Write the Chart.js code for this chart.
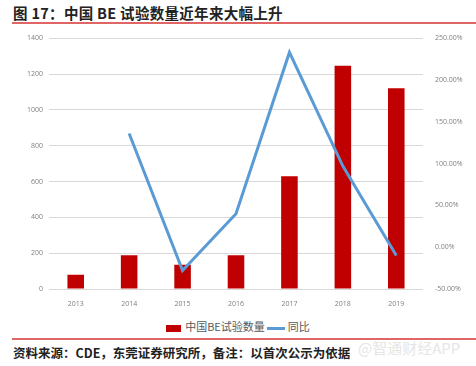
<!DOCTYPE html>
<html>
<head>
<meta charset="utf-8">
<script src="https://cdn.jsdelivr.net/npm/chart.js@4.4.0/dist/chart.umd.min.js"></script>
<style>
  body { margin: 0; width: 476px; height: 366px; background: #fff; position: relative; overflow: hidden;
         font-family: "Noto Sans CJK SC", sans-serif; }
  #title { position: absolute; left: 13px; top: 2px; font-size: 14.5px; font-weight: bold; color: #222; letter-spacing: 0.3px; }
  .rule { position: absolute; left: 12px; right: 0; height: 1.5px; background: #e06666; }
  #wrap { position: absolute; left: 0; top: 28px; width: 476px; height: 281px; }
  #legend { position: absolute; top: 318px; left: 0; width: 476px; text-align: center; font-size: 11px; color: #595959; }
  #legend span.box { display: inline-block; width: 15px; height: 7px; background: #c00000; vertical-align: middle; margin-right: 4px; }
  #legend span.ln { display: inline-block; width: 18px; height: 3px; background: #5b9bd5; vertical-align: middle; margin: 0 3px 0 2px; }
  #note { position: absolute; left: 13px; top: 343px; font-size: 12.5px; font-weight: bold; color: #222; }
  #wm { position: absolute; left: 358px; top: 337px; font-size: 15px; color: #e6e6e6; }
</style>
</head>
<body>
<div id="title">图&nbsp;17：中国 BE 试验数量近年来大幅上升</div>
<div class="rule" style="top:22px"></div>
<div id="wrap"><canvas id="myChart"></canvas></div>
<div id="legend"><span class="box"></span>中国BE试验数量<span class="ln"></span>同比</div>
<div class="rule" style="top:338px"></div>
<div id="note">资料来源：CDE，东莞证券研究所，备注：以首次公示为依据</div>
<div id="wm">@智通财经APP</div>
<script>
var years = ['2013', '2014', '2015', '2016', '2017', '2018', '2019'];
var beCount = [79, 189, 135, 189, 629, 1246, 1120];
var yoy = [null, 136, -28, 40, 233, 97, -10];

var tickFont = { family: 'Open Sans', size: 7 };

new Chart('myChart', {
    type: 'bar',
    data: {
        labels: years,
        datasets: [{
            type: 'line',
            label: '同比',
            data: yoy,
            yAxisID: 'y1',
            borderColor: '#5b9bd5',
            borderWidth: 3,
            pointRadius: 0,
            tension: 0,
            order: 0
        }, {
            label: '中国BE试验数量',
            data: beCount,
            yAxisID: 'y',
            backgroundColor: '#c00000',
            categoryPercentage: 1,
            barPercentage: 0.31,
            order: 1
        }]
    },
    options: {
        responsive: true,
        maintainAspectRatio: false,
        animation: false,
        layout: { padding: { top: 8, left: 0, right: 0, bottom: 0 } },
        plugins: { legend: { display: false }, tooltip: { enabled: false } },
        scales: {
            x: {
                grid: { display: false },
                border: { display: false },
                ticks: { color: '#7f7f7f', font: tickFont, padding: 3 },
                afterFit: function (s) { s.height = 20; }
            },
            y: {
                position: 'left',
                min: 0, max: 1400,
                ticks: {
                    stepSize: 200, color: '#7f7f7f', font: tickFont, padding: 6,
                    callback: function (v) { return String(v); }
                },
                grid: { color: '#d9d9d9', drawTicks: false },
                border: { display: false },
                afterFit: function (s) { s.width = 49; }
            },
            y1: {
                position: 'right',
                min: -50, max: 250,
                ticks: {
                    stepSize: 50, color: '#7f7f7f', font: tickFont, padding: 4,
                    callback: function (v) { return v.toFixed(2) + '%'; }
                },
                grid: { display: false },
                border: { display: false },
                afterFit: function (s) { s.width = 53; }
            }
        }
    }
});
</script>
</body>
</html>
